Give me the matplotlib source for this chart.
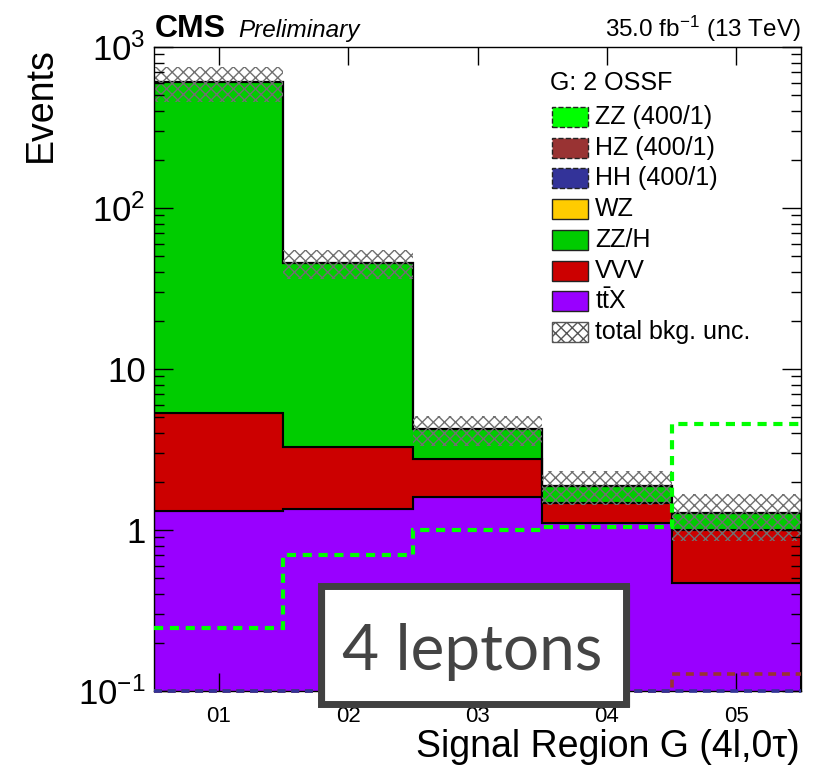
import numpy as np
import matplotlib.pyplot as plt
from matplotlib.patches import Rectangle
from matplotlib.ticker import FixedLocator, LogLocator, NullFormatter

plt.rcParams['font.family'] = ['Liberation Sans', 'DejaVu Sans']
plt.rcParams['mathtext.fontset'] = 'custom'
plt.rcParams['mathtext.rm'] = 'Liberation Sans'
plt.rcParams['mathtext.it'] = 'Liberation Sans:italic'
plt.rcParams['hatch.linewidth'] = 1.0

# signal region G yields per bin
regions = ['01', '02', '03', '04', '05']
ttx = [1.31, 1.35, 1.60, 1.10, 0.47]
vvv = [4.02, 1.91, 1.16, 0.37, 0.53]
zzh = [599.7, 42.2, 1.46, 0.41, 0.27]
wz = [0.0, 0.0, 0.0, 0.0, 0.0]
bkg_unc = [150.0, 9.0, 0.9, 0.44, 0.41]
sig_zz = [0.246, 0.70, 1.00, 1.04, 4.55]
sig_hz = [0.010, 0.020, 0.030, 0.050, 0.128]
sig_hh = [0.005, 0.010, 0.015, 0.020, 0.030]

W, H = 831, 766
YMIN, YMAX = 0.1, 1000


def fx(x):
    return x / W


def fy(y):
    return 1 - y / H


fig = plt.figure(figsize=(W / 100, H / 100), dpi=100)
ax = fig.add_axes([fx(154), fy(691), fx(801) - fx(154), fy(47) - fy(691)])

edges = np.arange(len(regions) + 1) + 0.5
centers = np.arange(1, len(regions) + 1)

# stacked backgrounds, bottom to top
floor = 1e-3
bottom = np.full(len(regions), floor)
for vals, col in [(ttx, '#9900ff'), (vvv, '#cc0000'), (zzh, '#00cc00'), (wz, '#ffcc00')]:
    top = bottom + np.array(vals)
    ax.stairs(top, edges, baseline=bottom, fill=True, facecolor=col,
              edgecolor='black', linewidth=1.5, zorder=1)
    bottom = top
total = bottom - floor

unc = np.array(bkg_unc)
ax.bar(centers, 2 * unc, bottom=total - unc, width=1.0, fill=False,
       hatch='xxx', edgecolor='#707070', linewidth=0, zorder=2)

# signals, drawn at the axis minimum when below it
for vals, col, lw in [(sig_zz, '#00ff00', 3.0), (sig_hz, '#993333', 2.6), (sig_hh, '#333399', 2.6)]:
    ax.stairs(np.clip(vals, YMIN, None), edges, baseline=None, color=col,
              linewidth=lw, linestyle=(0, (2.2, 1.6)), zorder=6, clip_on=False)

ax.set_yscale('log')
ax.set_ylim(YMIN, YMAX)
ax.set_xlim(0.5, 5.5)
ax.yaxis.set_major_locator(FixedLocator([0.1, 1, 10, 100, 1000]))
ax.set_yticklabels([r'$10^{-1}$', '1', '10', r'$10^{2}$', r'$10^{3}$'], fontsize=25)
ax.yaxis.set_minor_locator(LogLocator(base=10, subs=np.arange(2, 10)))
ax.yaxis.set_minor_formatter(NullFormatter())
ax.set_xticks(centers)
ax.set_xticklabels(regions, fontsize=16)
ax.set_axisbelow(False)
ax.tick_params(which='both', direction='in', top=True, right=True, width=1)
ax.tick_params(axis='y', which='major', length=14, pad=6)
ax.tick_params(axis='y', which='minor', length=7)
ax.tick_params(axis='x', which='major', length=13, pad=11)
for sp in ax.spines.values():
    sp.set_linewidth(1.0)
    sp.set_zorder(5)

fig.text(fx(800), fy(757), 'Signal Region G (4l,0τ)', ha='right', va='baseline', fontsize=27)
fig.text(fx(41), fy(47), 'Events', rotation=90, ha='center', va='top', fontsize=27)

# header
fig.text(fx(155), fy(37), 'CMS', fontsize=23, fontweight='bold', va='baseline')
fig.text(fx(238), fy(37), 'Preliminary', fontsize=17.5, fontstyle='italic', va='baseline')
fig.text(fx(801), fy(37), r'35.0 fb$^{-1}$ (13 TeV)', fontsize=17.5, ha='right', va='baseline')

# legend
fig.text(fx(550), fy(83), 'G: 2 OSSF', fontsize=18, va='center')
entries = [
    ('ZZ (400/1)', '#00ff00', '--', None),
    ('HZ (400/1)', '#993333', '--', None),
    ('HH (400/1)', '#333399', '--', None),
    ('WZ', '#ffcc00', '-', None),
    ('ZZ/H', '#00cc00', '-', None),
    ('VVV', '#cc0000', '-', None),
    (r'$\mathrm{t\bar{t}X}$', '#9900ff', '-', None),
    ('total bkg. unc.', 'white', '-', 'xxx'),
]
for i, (label, col, ls, hatch) in enumerate(entries):
    yc = 117 + i * 30.7
    box = Rectangle((fx(552), fy(yc + 10)), fx(588) - fx(552), fy(yc - 10) - fy(yc + 10),
                    transform=fig.transFigure, facecolor=col,
                    edgecolor='#555555' if hatch else '#222222',
                    linewidth=1.0, linestyle=ls, hatch=hatch)
    fig.add_artist(box)
    fig.text(fx(595), fy(yc), label, fontsize=18, va='center')

# "4 leptons" label box
for dx, dy, lw in [(0, 0, 5.0), (2, 1, 3.0)]:
    frame = Rectangle((fx(321 + dx), fy(704 + dy)), fx(626) - fx(321), fy(586) - fy(704),
                      transform=fig.transFigure, facecolor='white' if dx == 0 else 'none',
                      edgecolor='#404040', linewidth=lw, zorder=10)
    fig.add_artist(frame)
fig.text(fx(472), fy(670), '4 leptons', fontsize=46, color='#444444', family='Lato',
         ha='center', va='baseline', zorder=11)

fig.savefig('out.png', dpi=100)
